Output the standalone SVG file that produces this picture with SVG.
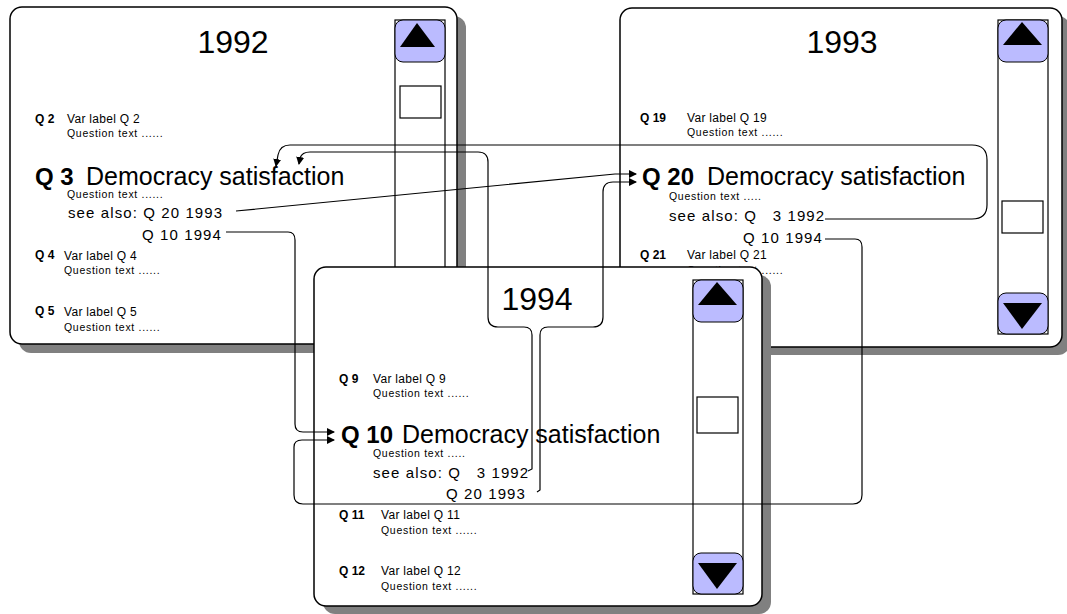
<svg xmlns="http://www.w3.org/2000/svg" width="1067" height="614" viewBox="0 0 1067 614">
<style>
.panel{fill:#fff;stroke:#000;stroke-width:1.5}
.shadow{fill:#808080}
.sb{fill:#fff;stroke:#000;stroke-width:1.2}
.btn{fill:#bbbbff;stroke:#000;stroke-width:1}
.tri{fill:#000}
.thumb{fill:#fff;stroke:#000;stroke-width:1.2}
text{font-family:"Liberation Sans",Arial,sans-serif;fill:#000}
.title{font-size:32px;text-anchor:middle}
.qb{font-size:12px;font-weight:bold}
.sm{font-size:12px;letter-spacing:0.3px}
.qt{font-size:10.5px;letter-spacing:0.7px}
.big{font-size:24px;font-weight:bold}
.dem{font-size:25px}
.see{font-size:15px;letter-spacing:1.1px}
.conn{fill:none;stroke:#000;stroke-width:1.2}
</style>
<defs>
<marker id="ah" markerUnits="userSpaceOnUse" markerWidth="8" markerHeight="8" refX="7" refY="4" orient="auto">
<path d="M0,0 L8,4 L0,8 z" fill="#000"/>
</marker>
</defs>

<g id="panel-1992">
<rect class="shadow" x="19" y="16" width="447" height="337" rx="12"/>
<rect class="panel" x="10" y="7" width="447" height="337" rx="12"/>
<rect class="sb" x="395" y="20" width="50" height="315"/>
<rect class="btn" x="395" y="20" width="50" height="42" rx="8"/>
<polygon class="tri" points="417,23 435,47 400,47"/>
<rect class="thumb" x="400" y="86" width="41" height="32"/>
<text class="title" x="233" y="53">1992</text>
<text class="qb" x="35" y="123">Q 2</text>
<text class="sm" x="67" y="123">Var label Q 2</text>
<text class="qt" x="67" y="137">Question text ......</text>
<text class="big" x="35" y="185">Q 3</text>
<text class="dem" x="86" y="185">Democracy satisfaction</text>
<text class="qt" x="67" y="198">Question text ......</text>
<text class="see" x="68" y="218">see also: Q 20 1993</text>
<text class="see" x="142" y="240">Q 10 1994</text>
<text class="qb" x="35" y="259">Q 4</text>
<text class="sm" x="64" y="260">Var label Q 4</text>
<text class="qt" x="64" y="274">Question text ......</text>
<text class="qb" x="35" y="315">Q 5</text>
<text class="sm" x="64" y="316">Var label Q 5</text>
<text class="qt" x="64" y="331">Question text ......</text>
</g>

<g id="panel-1993">
<rect class="shadow" x="628" y="16" width="442" height="339" rx="12"/>
<rect class="panel" x="620" y="8" width="442" height="339" rx="12"/>
<rect class="sb" x="998" y="20" width="50" height="314"/>
<rect class="btn" x="998" y="20" width="50" height="42" rx="8"/>
<polygon class="tri" points="1022,22 1042,45 1003,45"/>
<rect class="btn" x="998" y="293" width="50" height="41" rx="8"/>
<polygon class="tri" points="1003,303 1042,303 1022,329"/>
<rect class="thumb" x="1002" y="201" width="41" height="32"/>
<text class="title" x="842" y="53">1993</text>
<text class="qb" x="640" y="122">Q 19</text>
<text class="sm" x="687" y="122">Var label Q 19</text>
<text class="qt" x="687" y="136">Question text ......</text>
<text class="big" x="642" y="185">Q 20</text>
<text class="dem" x="707" y="185">Democracy satisfaction</text>
<text class="qt" x="669" y="200">Question text .....</text>
<text class="see" x="669" y="221" xml:space="preserve">see also: Q   3 1992</text>
<text class="see" x="743" y="243">Q 10 1994</text>
<text class="qb" x="640" y="259">Q 21</text>
<text class="sm" x="687" y="259">Var label Q 21</text>
<text class="qt" x="687" y="274">Question text ......</text>
</g>

<g id="panel-1994">
<rect class="shadow" x="323" y="275" width="448" height="339" rx="12"/>
<rect class="panel" x="314" y="267" width="448" height="339" rx="12"/>
<rect class="sb" x="693" y="280" width="50" height="314"/>
<rect class="btn" x="693" y="280" width="50" height="42" rx="8"/>
<polygon class="tri" points="717,282 737,305 698,305"/>
<rect class="btn" x="693" y="553" width="50" height="41" rx="8"/>
<polygon class="tri" points="698,563 737,563 717,589"/>
<rect class="thumb" x="697" y="397" width="41" height="36"/>
<text class="title" x="537" y="310">1994</text>
<text class="qb" x="339" y="383">Q 9</text>
<text class="sm" x="373" y="383">Var label Q 9</text>
<text class="qt" x="373" y="397">Question text ......</text>
<text class="big" x="341" y="443">Q 10</text>
<text class="dem" x="402" y="443">Democracy satisfaction</text>
<text class="qt" x="373" y="457">Question text .....</text>
<text class="see" x="373" y="478" xml:space="preserve">see also: Q   3 1992</text>
<text class="see" x="446" y="499">Q 20 1993</text>
<text class="qb" x="339" y="519">Q 11</text>
<text class="sm" x="381" y="519">Var label Q 11</text>
<text class="qt" x="381" y="534">Question text ......</text>
<text class="qb" x="339" y="575">Q 12</text>
<text class="sm" x="381" y="575">Var label Q 12</text>
<text class="qt" x="381" y="590">Question text ......</text>
</g>

<g id="connectors">
<path class="conn" marker-end="url(#ah)" d="M825,219 H972 Q987,219 987,205 V160 Q987,145 972,145 H290 Q280,145 278,155 L276,166"/>
<path class="conn" marker-end="url(#ah)" d="M528,471 L532,469 V335 Q532,327 524,327 H498 Q488,327 488,317 V162 Q488,152 478,152 H310 Q302,152 300,158 L299,164"/>
<path class="conn" marker-end="url(#ah)" d="M236,211 L615,174 H636"/>
<path class="conn" marker-end="url(#ah)" d="M537,492 L540,490 V335 Q540,327 548,327 H593 Q603,327 603,317 V192 Q603,182 613,182 H636"/>
<path class="conn" marker-end="url(#ah)" d="M226,232 H288 Q295,232 295,240 V424 Q295,432 303,432 H334"/>
<path class="conn" marker-end="url(#ah)" d="M825,239 H855 Q862,239 862,247 V495 Q862,504 853,504 H303 Q294,504 294,495 V447 Q294,440 302,440 H334"/>
</g>
</svg>
